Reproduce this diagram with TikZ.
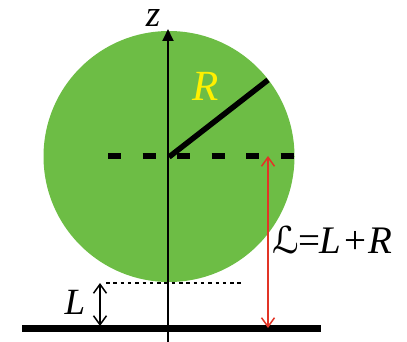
\documentclass[tikz,border=0pt]{standalone}
\usepackage{fontspec}
\setmainfont{Liberation Serif}
\newfontfamily\scriptLfont{DejaVu Sans}
\usetikzlibrary{arrows.meta}
\definecolor{ballgreen}{RGB}{109,189,69}
\definecolor{arrowred}{RGB}{226,52,38}
\definecolor{labelyellow}{RGB}{255,240,0}
\tikzset{
  lbl/.style={inner sep=0pt, font=\fontsize{37}{40}\selectfont\itshape},
  openarrow/.style={line width=1.5pt, {Straight Barb[length=9pt,width=13pt,line width=1.5pt]}-{Straight Barb[length=9pt,width=13pt,line width=1.5pt]}},
}
\begin{document}
\begin{tikzpicture}[x=1pt,y=-1pt]
\useasboundingbox (0,0) rectangle (407,342);
% ball
\coordinate (c) at (169,156.5);
\fill[ballgreen] (c) circle[radius=125.5];
% dashed center line
\coordinate (dl) at (108,156);
\coordinate (dr) at (294,156);
\draw[line width=6pt, dash pattern=on 13.2pt off 21.3pt] (dl) -- (dr);
% dotted line at bottom of ball
\coordinate (bl) at (106,283);
\coordinate (br) at (243,283);
\draw[line width=1.2pt, dash pattern=on 3.5pt off 3.8pt] (bl) -- (br);
% ground
\coordinate (gl) at (22,328.5);
\coordinate (gr) at (321,328.5);
\draw[line width=7.5pt] (gl) -- (gr);
% z axis
\coordinate (zb) at (168,342);
\coordinate (zt) at (168,29);
\draw[line width=1.8pt, -{Triangle[length=12pt,width=11pt]}] (zb) -- (zt);
\node[lbl, anchor=base, font=\fontsize{37}{40}\selectfont\itshape] (zlab) at (153,27) {z};
% radius
\coordinate (rt) at (268,80);
\draw[line width=5.5pt] (169,157) coordinate (rc) -- (rt);
\node[lbl, text=labelyellow, font=\fontsize{43}{46}\selectfont\itshape] (rlab) at (206,86) {R};
% red arrow
\coordinate (ra) at (268,156);
\coordinate (rb) at (268,328);
\draw[arrowred, openarrow] (ra) -- (rb);
\node[lbl, anchor=base west, font=\fontsize{39}{42}\selectfont\itshape] (eq) at (272,253) {{\scriptLfont\fontsize{37}{40}\selectfont ℒ}\kern-0.5pt\upshape=\kern-0.5pt\itshape L\kern2.5pt\upshape+\kern2pt\itshape R};
% L arrow
\coordinate (la) at (100,283);
\coordinate (lb) at (100,326);
\draw[black, openarrow, line width=1.3pt] (la) -- (lb);
\node[lbl, anchor=base] (llab) at (75,314) {L};
\end{tikzpicture}
\end{document}
